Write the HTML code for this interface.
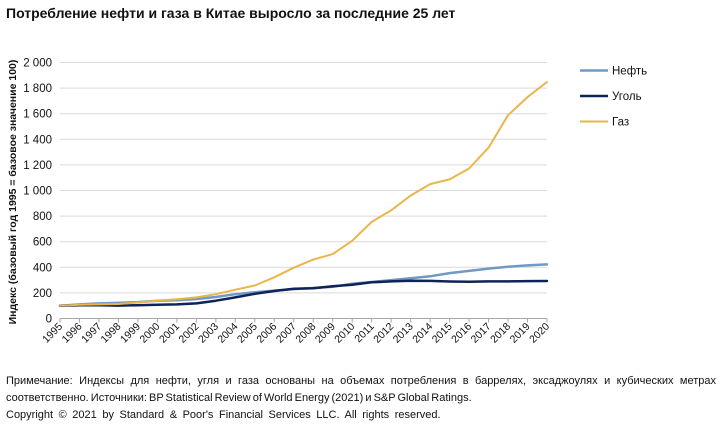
<!DOCTYPE html>
<html><head><meta charset="utf-8"><style>
html,body{margin:0;padding:0;background:#fff;}
body{width:720px;height:429px;overflow:hidden;position:relative;font-family:"Liberation Sans",Arial,sans-serif;}
.t{position:absolute;left:6px;top:5px;font-size:14px;font-weight:bold;color:#111;white-space:nowrap;}
.n{position:absolute;left:6px;width:710px;font-size:11px;color:#111;white-space:nowrap;line-height:13px;}
</style></head><body>
<div class="t">Потребление нефти и газа в Китае выросло за последние 25 лет</div>
<svg width="720" height="429" style="position:absolute;left:0;top:0" font-family="Liberation Sans, Arial, sans-serif">
<g stroke="#d9d9d9" stroke-width="1">
<line x1="60" x2="547" y1="62.5" y2="62.5"/>
<line x1="60" x2="547" y1="88.1" y2="88.1"/>
<line x1="60" x2="547" y1="113.7" y2="113.7"/>
<line x1="60" x2="547" y1="139.3" y2="139.3"/>
<line x1="60" x2="547" y1="164.9" y2="164.9"/>
<line x1="60" x2="547" y1="190.5" y2="190.5"/>
<line x1="60" x2="547" y1="216.1" y2="216.1"/>
<line x1="60" x2="547" y1="241.7" y2="241.7"/>
<line x1="60" x2="547" y1="267.3" y2="267.3"/>
<line x1="60" x2="547" y1="292.9" y2="292.9"/>
</g>
<line x1="60" x2="547" y1="318.5" y2="318.5" stroke="#a6a6a6" stroke-width="1"/>
<g stroke="#a6a6a6" stroke-width="1">
<line x1="60" x2="60" y1="318.5" y2="322.5"/><line x1="79.48" x2="79.48" y1="318.5" y2="322.5"/><line x1="98.96" x2="98.96" y1="318.5" y2="322.5"/><line x1="118.44" x2="118.44" y1="318.5" y2="322.5"/><line x1="137.92" x2="137.92" y1="318.5" y2="322.5"/><line x1="157.4" x2="157.4" y1="318.5" y2="322.5"/><line x1="176.88" x2="176.88" y1="318.5" y2="322.5"/><line x1="196.36" x2="196.36" y1="318.5" y2="322.5"/><line x1="215.84" x2="215.84" y1="318.5" y2="322.5"/><line x1="235.32" x2="235.32" y1="318.5" y2="322.5"/><line x1="254.8" x2="254.8" y1="318.5" y2="322.5"/><line x1="274.28" x2="274.28" y1="318.5" y2="322.5"/><line x1="293.76" x2="293.76" y1="318.5" y2="322.5"/><line x1="313.24" x2="313.24" y1="318.5" y2="322.5"/><line x1="332.72" x2="332.72" y1="318.5" y2="322.5"/><line x1="352.2" x2="352.2" y1="318.5" y2="322.5"/><line x1="371.68" x2="371.68" y1="318.5" y2="322.5"/><line x1="391.16" x2="391.16" y1="318.5" y2="322.5"/><line x1="410.64" x2="410.64" y1="318.5" y2="322.5"/><line x1="430.12" x2="430.12" y1="318.5" y2="322.5"/><line x1="449.6" x2="449.6" y1="318.5" y2="322.5"/><line x1="469.08" x2="469.08" y1="318.5" y2="322.5"/><line x1="488.56" x2="488.56" y1="318.5" y2="322.5"/><line x1="508.04" x2="508.04" y1="318.5" y2="322.5"/><line x1="527.52" x2="527.52" y1="318.5" y2="322.5"/><line x1="547" x2="547" y1="318.5" y2="322.5"/>
</g>
<g font-size="11.5" fill="#111" text-anchor="end">
<text x="52" y="66.5">2 000</text>
<text x="52" y="92.1">1 800</text>
<text x="52" y="117.7">1 600</text>
<text x="52" y="143.3">1 400</text>
<text x="52" y="168.9">1 200</text>
<text x="52" y="194.5">1 000</text>
<text x="52" y="220.1">800</text>
<text x="52" y="245.7">600</text>
<text x="52" y="271.3">400</text>
<text x="52" y="296.9">200</text>
<text x="52" y="322.5">0</text>
</g>
<text transform="translate(16,192) rotate(-90)" text-anchor="middle" font-size="10.5" font-weight="bold" fill="#111">Индекс (базовый год 1995 = базовое значение 100)</text>
<g font-size="10.5" fill="#111" text-anchor="end">
<text transform="translate(63,327) rotate(-45)">1995</text>
<text transform="translate(82.48,327) rotate(-45)">1996</text>
<text transform="translate(101.96,327) rotate(-45)">1997</text>
<text transform="translate(121.44,327) rotate(-45)">1998</text>
<text transform="translate(140.92,327) rotate(-45)">1999</text>
<text transform="translate(160.4,327) rotate(-45)">2000</text>
<text transform="translate(179.88,327) rotate(-45)">2001</text>
<text transform="translate(199.36,327) rotate(-45)">2002</text>
<text transform="translate(218.84,327) rotate(-45)">2003</text>
<text transform="translate(238.32,327) rotate(-45)">2004</text>
<text transform="translate(257.8,327) rotate(-45)">2005</text>
<text transform="translate(277.28,327) rotate(-45)">2006</text>
<text transform="translate(296.76,327) rotate(-45)">2007</text>
<text transform="translate(316.24,327) rotate(-45)">2008</text>
<text transform="translate(335.72,327) rotate(-45)">2009</text>
<text transform="translate(355.2,327) rotate(-45)">2010</text>
<text transform="translate(374.68,327) rotate(-45)">2011</text>
<text transform="translate(394.16,327) rotate(-45)">2012</text>
<text transform="translate(413.64,327) rotate(-45)">2013</text>
<text transform="translate(433.12,327) rotate(-45)">2014</text>
<text transform="translate(452.6,327) rotate(-45)">2015</text>
<text transform="translate(472.08,327) rotate(-45)">2016</text>
<text transform="translate(491.56,327) rotate(-45)">2017</text>
<text transform="translate(511.04,327) rotate(-45)">2018</text>
<text transform="translate(530.52,327) rotate(-45)">2019</text>
<text transform="translate(550,327) rotate(-45)">2020</text>
</g>
<g fill="none" stroke-linejoin="round" stroke-linecap="round">
<polyline stroke="#7099c3" stroke-width="2.5" points="60,305.7 79.48,304.4 98.96,303.4 118.44,302.9 137.92,302.1 157.4,300.8 176.88,300.2 196.36,299.0 215.84,297.0 235.32,294.2 254.8,292.3 274.28,290.6 293.76,289.1 313.24,288.0 332.72,286.8 352.2,283.7 371.68,282.0 391.16,280.1 410.64,278.2 430.12,276.3 449.6,273.1 469.08,270.9 488.56,268.6 508.04,266.7 527.52,265.4 547,264.4"/>
<polyline stroke="#0e2358" stroke-width="2.5" points="60,305.7 79.48,305.2 98.96,305.3 118.44,305.6 137.92,305.2 157.4,304.7 176.88,304.4 196.36,303.4 215.84,300.7 235.32,297.4 254.8,293.8 274.28,291.0 293.76,288.7 313.24,288.3 332.72,286.2 352.2,284.7 371.68,282.3 391.16,281.4 410.64,280.7 430.12,280.9 449.6,281.5 469.08,281.8 488.56,281.4 508.04,281.4 527.52,281.1 547,281.0"/>
<polyline stroke="#e9b64a" stroke-width="2" points="60,305.7 79.48,304.8 98.96,304.4 118.44,304.0 137.92,302.5 157.4,300.6 176.88,299.3 196.36,297.4 215.84,294.2 235.32,289.7 254.8,285.5 274.28,277.3 293.76,267.7 313.24,259.6 332.72,254.1 352.2,240.8 371.68,221.9 391.16,210.3 410.64,195.6 430.12,184.1 449.6,179.4 469.08,168.5 488.56,147.6 508.04,115.2 527.52,97.1 547,82.0"/>
</g>
<g stroke-width="2.5">
<line x1="580" x2="608" y1="70.5" y2="70.5" stroke="#7099c3"/>
<line x1="580" x2="608" y1="96" y2="96" stroke="#0e2358"/>
<line x1="580" x2="608" y1="121.5" y2="121.5" stroke="#e9b64a" stroke-width="2"/>
</g>
<g font-size="11.5" fill="#111">
<text x="612" y="74.5">Нефть</text>
<text x="612" y="100">Уголь</text>
<text x="612" y="125.5">Газ</text>
</g>
</svg>
<div class="n" style="top:375px;text-align:justify;text-align-last:justify;">Примечание: Индексы для нефти, угля и газа основаны на объемах потребления в баррелях, эксаджоулях и кубических метрах</div>
<div class="n" style="top:392px;word-spacing:-1px;">соответственно. Источники: BP Statistical Review of World Energy (2021) и S&amp;P Global Ratings.</div>
<div class="n" style="top:409px;word-spacing:2.5px;">Copyright © 2021 by Standard &amp; Poor's Financial Services LLC. All rights reserved.</div>
</body></html>
